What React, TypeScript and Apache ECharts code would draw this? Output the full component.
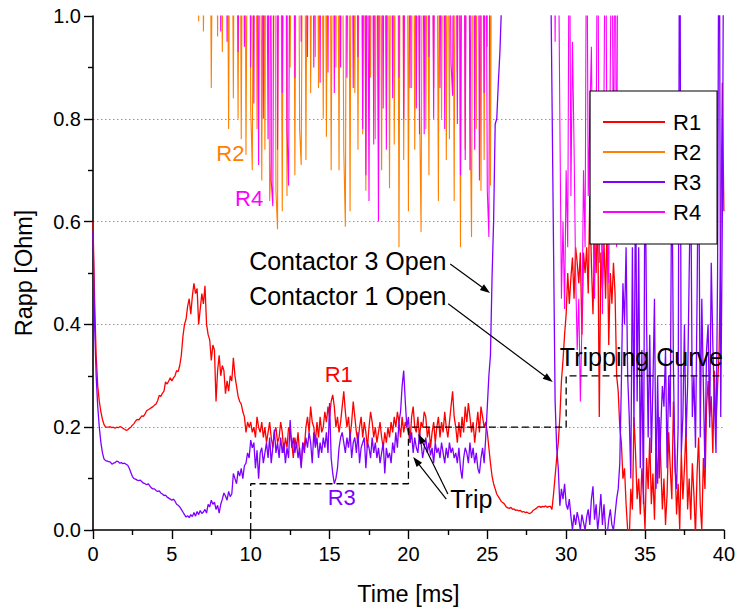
import React, { useEffect, useRef } from "react";
import * as echarts from "echarts";

// sampling step of the recorded traces (ms)
const DT = 0.1;

// R1 (red) — starts at 0 ms
const R1_T0 = 0;
const R1_VALUES = [
  0.60, 0.45, 0.34, 0.28, 0.25, 0.23, 0.215, 0.205, 0.20, 0.20,
  0.20, 0.201, 0.199, 0.20, 0.198, 0.20, 0.199, 0.201, 0.20, 0.198,
  0.196, 0.194, 0.195, 0.198, 0.20, 0.204, 0.207, 0.212, 0.215, 0.214,
  0.218, 0.222, 0.221, 0.226, 0.232, 0.234, 0.236, 0.238, 0.24, 0.243,
  0.245, 0.252, 0.262, 0.26, 0.266, 0.27, 0.288, 0.284, 0.29, 0.296,
  0.29, 0.296, 0.30, 0.31, 0.308, 0.32, 0.34, 0.376, 0.40, 0.41,
  0.435, 0.45, 0.42, 0.455, 0.48, 0.46, 0.47, 0.40, 0.43, 0.46,
  0.44, 0.475, 0.40, 0.38, 0.37, 0.33, 0.36, 0.35, 0.25, 0.31,
  0.34, 0.30, 0.32, 0.31, 0.265, 0.29, 0.27, 0.30, 0.29, 0.335,
  0.30, 0.28, 0.26, 0.25, 0.245, 0.23, 0.22, 0.19, 0.21, 0.20,
  0.21, 0.19, 0.20, 0.18, 0.22, 0.20, 0.19, 0.21, 0.18, 0.20,
  0.17, 0.19, 0.21, 0.18, 0.16, 0.19, 0.20, 0.17, 0.18, 0.21,
  0.19, 0.15, 0.18, 0.16, 0.20, 0.19, 0.17, 0.14, 0.18, 0.16,
  0.19, 0.15, 0.125, 0.17, 0.16, 0.20, 0.22, 0.19, 0.24, 0.21,
  0.20, 0.17, 0.21, 0.18, 0.22, 0.19, 0.20, 0.23, 0.21, 0.24,
  0.22, 0.25, 0.263, 0.24, 0.20, 0.22, 0.19, 0.21, 0.24, 0.27,
  0.23, 0.20, 0.22, 0.18, 0.21, 0.25, 0.22, 0.19, 0.17, 0.20,
  0.22, 0.18, 0.21, 0.19, 0.16, 0.20, 0.23, 0.21, 0.18, 0.20,
  0.17, 0.19, 0.21, 0.18, 0.16, 0.19, 0.17, 0.20, 0.18, 0.21,
  0.19, 0.22, 0.20, 0.23, 0.21, 0.18, 0.22, 0.19, 0.21, 0.20,
  0.19, 0.17, 0.22, 0.24, 0.20, 0.19, 0.22, 0.18, 0.21, 0.20,
  0.23, 0.22, 0.18, 0.20, 0.16, 0.19, 0.21, 0.17, 0.20, 0.22,
  0.18, 0.21, 0.19, 0.23, 0.20, 0.18, 0.21, 0.24, 0.27, 0.22,
  0.20, 0.17, 0.21, 0.18, 0.22, 0.19, 0.24, 0.21, 0.247, 0.22,
  0.19, 0.21, 0.17, 0.20, 0.23, 0.19, 0.24, 0.22, 0.20, 0.21,
  0.19, 0.16, 0.13, 0.105, 0.09, 0.08, 0.07, 0.065, 0.06, 0.055,
  0.053, 0.05, 0.045, 0.043, 0.042, 0.044, 0.04, 0.041, 0.038, 0.039,
  0.037, 0.038, 0.035, 0.036, 0.034, 0.035, 0.033, 0.032, 0.034, 0.038,
  0.04, 0.042, 0.045, 0.046, 0.044, 0.046, 0.045, 0.047, 0.044, 0.046,
  0.046, 0.04, 0.07, 0.105, 0.14, 0.17, 0.22, 0.29, 0.33, 0.38,
  0.42, 0.50, 0.44, 0.49, 0.53, 0.45, 0.55, 0.52, 0.48, 0.54,
  0.38, 0.54, 0.50, 0.55, 0.46, 0.65, 0.52, 0.42, 0.57, 0.50,
  0.63, 0.22, 0.54, 0.47, 0.56, 0.45, 0.60, 0.36, 0.50, 0.44,
  0.52, 0.46, 0.30, 0.27, 0.20, 0.17, 0.10, 0.12, 0.05, 0.00,
  -0.02, 0.08, 0.04, 0.22, 0.15, 0.06, 0.10, 0.03, 0.12, 0.07,
  0.00, 0.14, 0.08, 0.18, 0.05, 0.11, 0.02, 0.16, 0.09, 0.22,
  0.13, 0.04, 0.10, 0.01, 0.07, 0.19, 0.12, 0.06, 0.25, 0.14,
  0.03, 0.09, 0.00, 0.15, 0.06, 0.12, 0.20, 0.04, 0.10, 0.02,
  0.13, 0.07, -0.01, 0.11, 0.18, 0.05, 0.00, 0.14, 0.08, 0.24,
  0.29, 0.22, 0.26, 0.15, 0.31, 0.20, 0.28, 0.35, 0.55, 0.87,
  0.62,
];

// R2 (orange) — visible part starts at 6.5 ms, values above 1 run off the top
const R2_T0 = 6.5;
const R2_VALUES = [
  1.3, 1.5, 0.99, 1.4, 1.6, 0.97, 1.2, 1.5, 1.3, 1.4,
  0.86, 1.3, 1.6, 1.4, 0.96, 1.5, 1.3, 0.93, 1.4, 1.6,
  1.3, 0.78, 1.5, 1.4, 0.84, 1.6, 1.3, 0.80, 1.5, 0.76,
  1.4, 1.6, 0.73, 1.3, 1.5, 0.82, 0.70, 1.4, 1.6, 0.78,
  1.3, 1.5, 0.68, 1.4, 0.74, 1.6, 1.3, 0.64, 0.72, 1.5,
  1.4, 0.66, 0.585, 1.6, 1.3, 0.62, 1.5, 1.4, 0.65, 1.6,
  0.90, 1.3, 1.5, 0.69, 1.4, 1.6, 0.78, 0.71, 1.3, 1.5,
  0.72, 1.4, 1.6, 0.85, 1.3, 1.5, 0.92, 1.4, 0.86, 1.6,
  1.3, 0.80, 1.5, 0.765, 1.4, 1.6, 0.70, 1.3, 1.5, 0.90,
  1.4, 0.70, 1.6, 1.3, 0.74, 0.59, 1.5, 1.4, 0.62, 1.6,
  1.3, 0.85, 1.5, 0.74, 1.4, 1.6, 0.77, 1.3, 0.66, 1.5,
  1.4, 0.88, 1.6, 1.3, 0.76, 1.5, 0.80, 1.4, 0.70, 1.6,
  1.3, 0.82, 1.5, 0.665, 1.4, 1.6, 0.75, 1.3, 1.5, 0.55,
  1.4, 1.6, 0.72, 1.3, 1.5, 0.62, 1.4, 0.86, 1.6, 0.74,
  1.3, 1.5, 0.84, 0.58, 1.4, 1.6, 0.78, 1.3, 0.69, 1.5,
  1.4, 0.86, 1.6, 1.3, 0.64, 1.5, 0.80, 1.4, 1.6, 0.72,
  1.3, 0.76, 1.5, 1.4, 0.64, 1.6, 0.89, 1.3, 0.55, 1.5,
  1.4, 0.74, 1.6, 1.3, 0.85, 0.57, 1.5, 1.4, 0.78, 1.6,
  1.3, 0.66, 1.5, 0.72, 1.4, 0.94, 1.6, 0.67, 1.5, 1.5,
];

// R3 (violet) — starts at 0 ms
const R3_T0 = 0;
const R3_VALUES = [
  0.58, 0.40, 0.30, 0.24, 0.20, 0.17, 0.15, 0.138, 0.135, 0.134,
  0.133, 0.132, 0.128, 0.13, 0.131, 0.134, 0.133, 0.13, 0.131, 0.129,
  0.13, 0.128, 0.126, 0.12, 0.112, 0.104, 0.10, 0.099, 0.097, 0.096,
  0.097, 0.094, 0.091, 0.09, 0.088, 0.09, 0.086, 0.082, 0.08, 0.08,
  0.077, 0.075, 0.076, 0.072, 0.07, 0.067, 0.068, 0.064, 0.062, 0.06,
  0.058, 0.06, 0.056, 0.05, 0.048, 0.045, 0.04, 0.035, 0.03, 0.025,
  0.028, 0.024, 0.03, 0.026, 0.034, 0.027, 0.036, 0.03, 0.038, 0.032,
  0.035, 0.04, 0.033, 0.05, 0.045, 0.058, 0.05, 0.054, 0.04, 0.048,
  0.033, 0.05, 0.06, 0.072, 0.066, 0.058, 0.075, 0.065, 0.07, 0.11,
  0.10, 0.09, 0.115, 0.105, 0.12, 0.10, 0.125, 0.13, 0.15, 0.14,
  0.175, 0.16, 0.17, 0.12, 0.155, 0.10, 0.15, 0.16, 0.13, 0.15,
  0.17, 0.14, 0.18, 0.13, 0.16, 0.195, 0.15, 0.17, 0.14, 0.18,
  0.15, 0.17, 0.13, 0.16, 0.14, 0.214, 0.16, 0.18, 0.15, 0.17,
  0.14, 0.16, 0.12, 0.17, 0.15, 0.18, 0.16, 0.19, 0.17, 0.13,
  0.19, 0.16, 0.18, 0.14, 0.17, 0.15, 0.18, 0.16, 0.19, 0.15,
  0.247, 0.14, 0.11, 0.09, 0.10, 0.12, 0.16, 0.18, 0.19, 0.17,
  0.15, 0.18, 0.16, 0.19, 0.14, 0.17, 0.18, 0.15, 0.19, 0.13,
  0.16, 0.17, 0.18, 0.12, 0.17, 0.16, 0.14, 0.18, 0.15, 0.17,
  0.14, 0.16, 0.13, 0.15, 0.17, 0.11, 0.16, 0.14, 0.15, 0.13,
  0.17, 0.15, 0.19, 0.16, 0.21, 0.23, 0.28, 0.31, 0.25, 0.20,
  0.22, 0.17, 0.19, 0.15, 0.18, 0.16, 0.15, 0.19, 0.17, 0.14,
  0.16, 0.18, 0.15, 0.17, 0.145, 0.16, 0.13, 0.17, 0.15, 0.16,
  0.14, 0.17, 0.15, 0.13, 0.16, 0.14, 0.17, 0.15, 0.16, 0.14,
  0.15, 0.13, 0.16, 0.12, 0.10, 0.14, 0.16, 0.15, 0.13, 0.17,
  0.14, 0.16, 0.13, 0.15, 0.12, 0.11, 0.14, 0.16, 0.13, 0.18,
  0.24, 0.30, 0.34, 0.49, 0.60, 0.79, 0.80, 0.87, 0.93, 1.02,
  1.2, 1.5, 1.8, 2.2, 2.6, 3.0, 3.3, 3.1, 3.5, 3.8,
  4.0, 4.2, 3.9, 4.4, 4.1, 4.6, 4.3, 4.8, 4.5, 4.7,
  4.4, 4.1, 3.8, 3.5, 3.2, 2.8, 2.4, 2.0, 1.7, 1.4,
  1.15, 0.85, 0.55, 0.25, 0.16, 0.12, 0.047, 0.08, 0.06, 0.09,
  0.05, 0.04, 0.06, 0.027, 0.0, 0.03, 0.01, 0.035, 0.02, 0.0,
  0.03, 0.015, 0.0, 0.025, 0.04, 0.01, 0.06, 0.085, 0.02, 0.05,
  0.0, 0.03, 0.07, 0.01, 0.05, 0.0, -0.01, 0.02, 0.04, 0.01,
  0.0, 0.03, 0.06, 0.08, 0.13, 0.285, 0.48, 0.40, 0.55, 0.30,
  0.22, 0.10, 0.55, 0.20, 0.70, 0.25, 0.55, 0.12, 0.35, 0.05,
  0.75, 0.40, 0.18, 0.38, 0.15, 0.28, 0.45, 0.08, 0.30, 0.10,
  0.20, 0.28, 0.24, 0.35, 0.12, 0.30, 0.22, 0.75, 0.32, 0.12,
  0.08, 0.20, 1.4, 0.15, 0.22, 0.40, 0.18, 0.28, 0.50, 0.70,
  0.22, 0.30, 0.16, 0.45, 0.80, 0.18, 0.45, 0.28, 0.12, 0.35,
  0.40, 0.20, 0.52, 0.36, 0.25, 0.15, 0.50, 1.4, 0.22, 0.60,
  1.3,
];

// R4 (magenta) — first burst from 7.8 ms
const R4_T0 = 7.8;
const R4_VALUES = [
  1.3, 1.5, 1.4, 0.97, 1.6, 1.3, 1.5, 0.95, 1.4, 1.6,
  1.3, 1.5, 1.4, 1.6, 0.93, 1.3, 1.5, 1.4, 0.94, 1.6,
  1.3, 1.5, 0.90, 1.4, 0.83, 1.6, 1.3, 0.71, 1.5, 1.4,
  0.80, 1.6, 1.3, 0.76, 1.5, 0.68, 0.63, 1.4, 1.6, 0.74,
  1.3, 1.5, 0.85, 1.4, 1.6, 0.78, 0.67, 1.3, 1.5, 1.4,
  0.88, 1.6, 1.3, 1.5, 0.95, 1.4, 1.6, 1.3, 0.92, 1.5,
  1.4, 1.6, 0.90, 1.3, 1.5, 1.4, 0.87, 1.6, 1.3, 1.5,
  1.4, 0.89, 1.6, 1.3, 1.5, 0.85, 1.4, 1.6, 1.3, 0.90,
  1.5, 1.4, 1.6, 0.88, 1.3, 1.5, 1.4, 0.86, 1.6, 1.3,
  0.92, 1.5, 1.4, 0.78, 1.6, 0.69, 1.3, 0.64, 1.5, 1.4,
  0.75, 1.6, 1.3, 0.60, 1.5, 1.4, 0.82, 1.6, 0.74, 1.3,
  1.5, 1.4, 0.84, 1.6, 1.3, 1.5, 0.88, 1.4, 1.6, 0.80,
  1.3, 1.5, 1.4, 0.86, 1.6, 1.3, 1.5, 0.82, 1.4, 0.77,
  1.6, 1.3, 0.77, 1.5, 1.4, 0.92, 1.6, 1.3, 0.80, 1.5,
  1.4, 1.6, 0.86, 1.3, 1.5, 0.78, 1.4, 1.6, 1.3, 0.91,
  0.845, 1.5, 1.4, 0.79, 1.6, 0.69, 1.3, 1.5, 0.72, 1.4,
  1.6, 0.70, 1.3, 1.5, 0.74, 1.4, 1.6, 0.68, 1.3, 1.5,
  0.85, 1.4, 0.66, 0.57, 1.6, 1.5, 1.5,
];
// R4 second burst from 29.2 ms
const R4B_T0 = 29.2;
const R4B_VALUES = [
  1.5, 0.95, 1.5, 1.2, 0.80, 0.45, 0.60, 0.43, 0.70, 0.55,
  1.3, 0.65, 0.95, 0.75, 0.50, 0.35, 0.45, 0.25, 0.40, 0.70,
  0.55, 1.3, 0.65, 0.80, 0.94, 0.60, 0.45, 0.75, 1.3, 0.52,
  0.70, 0.42, 0.85, 1.3, 0.60, 0.48, 0.90, 1.3, 0.62, 1.3,
  0.55, 1.5, 1.5,
];

// Tripping curve (dashed)
const TRIP_T = [10, 10, 20, 20, 30, 30, 40];
const TRIP_V = [0, 0.09, 0.09, 0.2, 0.2, 0.3, 0.3];

const SERIES_NAMES = ["R1", "R2", "R3", "R4"];
const SERIES_COLORS = ["#ff0000", "#ff8000", "#8000ff", "#ff00ff"];
const SERIES_WIDTHS = [1.3, 1.1, 1.3, 1.1];

const FONT = "'Liberation Sans', Arial, Helvetica, sans-serif";

function toPairs(t0: number, vals: number[]) {
  return vals.map((v, i) => [Math.round((t0 + i * DT) * 100) / 100, v]);
}

export default function App() {
  const ref = useRef<HTMLDivElement>(null);

  useEffect(() => {
    document.body.style.margin = "0";
    const chart = echarts.init(ref.current!, undefined, { renderer: "svg" });

    const r4 = [...toPairs(R4_T0, R4_VALUES), ...toPairs(R4B_T0, R4B_VALUES)];
    const dataSets = [
      toPairs(R1_T0, R1_VALUES),
      toPairs(R2_T0, R2_VALUES),
      toPairs(R3_T0, R3_VALUES),
      r4,
    ];

    const series: any[] = SERIES_NAMES.map((name, i) => ({
      name,
      type: "line",
      data: dataSets[i],
      symbol: "none",
      showSymbol: false,
      clip: true,
      silent: true,
      color: SERIES_COLORS[i],
      lineStyle: { color: SERIES_COLORS[i], width: SERIES_WIDTHS[i] },
      emphasis: { disabled: true },
      z: 2 + i,
    }));
    series.push({
      name: "Tripping Curve",
      type: "line",
      data: TRIP_T.map((t, i) => [t, TRIP_V[i]]),
      symbol: "none",
      silent: true,
      lineStyle: { color: "#000", width: 1.3, type: [7, 4] },
      emphasis: { disabled: true },
      z: 10,
    });

    chart.setOption({
      animation: false,
      grid: { left: 93, right: 11, top: 16, bottom: 81, containLabel: false },
      legend: {
        data: SERIES_NAMES.map((n) => ({ name: n, icon: "rect" })),
        orient: "vertical",
        left: 590,
        top: 91,
        z: 50,
        padding: [20, 16, 21, 13],
        itemWidth: 62,
        itemHeight: 2,
        itemGap: 8,
        backgroundColor: "#ffffff",
        borderColor: "#000",
        borderWidth: 1.2,
        borderRadius: 0,
        textStyle: { fontSize: 22, fontFamily: FONT, color: "#000", padding: [0, 0, 0, 3] },
        selectedMode: false,
      },
      xAxis: {
        type: "value",
        min: 0,
        max: 40,
        interval: 5,
        name: "Time [ms]",
        nameLocation: "middle",
        nameGap: 52,
        nameTextStyle: { fontSize: 23.5, fontFamily: FONT, color: "#000" },
        axisLine: { show: true, onZero: false, lineStyle: { color: "#000", width: 1.6 } },
        axisTick: { show: true, inside: false, length: 9, lineStyle: { color: "#000", width: 1.4 } },
        minorTick: { show: true, splitNumber: 2, length: 5, lineStyle: { color: "#000", width: 1.4 } },
        axisLabel: { fontSize: 20, fontFamily: FONT, color: "#000", margin: 14 },
        splitLine: { show: false },
      },
      yAxis: {
        type: "value",
        min: 0,
        max: 1,
        interval: 0.2,
        name: "Rapp [Ohm]",
        nameLocation: "middle",
        nameGap: 57,
        nameRotate: 90,
        nameTextStyle: { fontSize: 23.5, fontFamily: FONT, color: "#000" },
        axisLine: { show: true, onZero: false, lineStyle: { color: "#000", width: 1.6 } },
        axisTick: { show: true, inside: false, length: 9, lineStyle: { color: "#000", width: 1.4 } },
        minorTick: { show: true, splitNumber: 2, length: 5, lineStyle: { color: "#000", width: 1.4 } },
        axisLabel: {
          fontSize: 20,
          fontFamily: FONT,
          color: "#000",
          margin: 12,
          formatter: (v: number) => v.toFixed(1),
        },
        splitLine: {
          show: true,
          showMinLine: false,
          showMaxLine: false,
          lineStyle: { color: "#999", width: 1, type: [1.5, 2.5] },
        },
      },
      series,
    });

    const px = (t: number, v: number) => chart.convertToPixel({ gridIndex: 0 }, [t, v]) as number[];

    const texts: { t: number; v: number; text: string; color: string; size: number; align: string }[] = [
      { t: 15.58, v: 0.3035, text: "R1", color: "#ff0000", size: 22, align: "center" },
      { t: 15.77, v: 0.064, text: "R3", color: "#8000ff", size: 22, align: "center" },
      { t: 8.71, v: 0.733, text: "R2", color: "#ff8000", size: 22, align: "center" },
      { t: 9.9, v: 0.644, text: "R4", color: "#ff00ff", size: 22, align: "center" },
      { t: 9.9, v: 0.523, text: "Contactor 3 Open", color: "#000", size: 25, align: "left" },
      { t: 9.9, v: 0.455, text: "Contactor 1 Open", color: "#000", size: 25, align: "left" },
      { t: 29.6, v: 0.337, text: "Tripping Curve", color: "#000", size: 25, align: "left" },
      { t: 22.65, v: 0.06, text: "Trip", color: "#000", size: 25, align: "left" },
    ];
    const arrows = [
      { from: [22.65, 0.5175], to: [25.17, 0.461] },
      { from: [22.52, 0.44], to: [29.15, 0.288] },
      { from: [22.5, 0.07], to: [20.63, 0.187] },
      { from: [22.4, 0.06], to: [20.3, 0.142] },
    ];

    const elements: any[] = [];
    texts.forEach((tx) => {
      const [x, y] = px(tx.t, tx.v);
      elements.push({
        type: "text",
        x,
        y,
        z: 100,
        silent: true,
        style: {
          text: tx.text,
          fill: tx.color,
          fontSize: tx.size,
          fontFamily: FONT,
          align: tx.align,
          verticalAlign: "middle",
          textAlign: tx.align,
          textVerticalAlign: "middle",
        },
      });
    });
    arrows.forEach((a) => {
      const [x1, y1] = px(a.from[0], a.from[1]);
      const [x2, y2] = px(a.to[0], a.to[1]);
      const dx = x2 - x1;
      const dy = y2 - y1;
      const len = Math.sqrt(dx * dx + dy * dy);
      const ux = dx / len;
      const uy = dy / len;
      const L = 10;
      const W = 3.5;
      const bx = x2 - ux * L;
      const by = y2 - uy * L;
      elements.push({
        type: "line",
        z: 100,
        silent: true,
        shape: { x1, y1, x2: bx + ux * 2, y2: by + uy * 2 },
        style: { stroke: "#000", lineWidth: 1.2 },
      });
      elements.push({
        type: "polygon",
        z: 100,
        silent: true,
        shape: {
          points: [
            [x2, y2],
            [bx - uy * W, by + ux * W],
            [bx + uy * W, by - ux * W],
          ],
        },
        style: { fill: "#000" },
      });
    });
    chart.setOption({ graphic: { elements } });

    return () => chart.dispose();
  }, []);

  return (
    <div
      ref={ref}
      style={{ position: "fixed", left: 0, top: 0, width: 738, height: 611, background: "#fff" }}
    />
  );
}
